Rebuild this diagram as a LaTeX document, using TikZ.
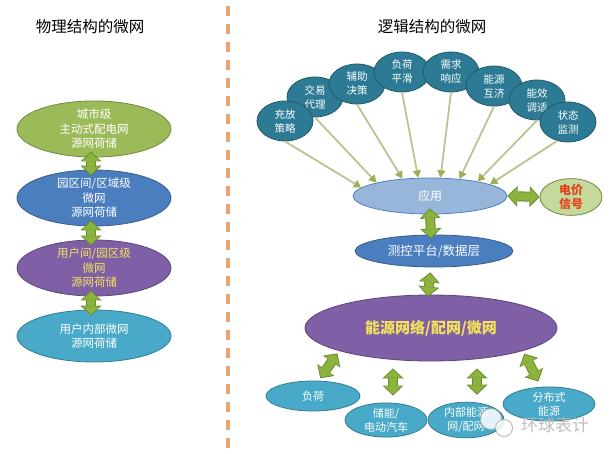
\documentclass[tikz,border=0pt]{standalone}
\usepackage{fontspec}
\setmainfont{Noto Sans CJK SC}
\usetikzlibrary{shapes.geometric,arrows.meta}
\definecolor{cgreen}{HTML}{9BBB59}
\definecolor{cgreenD}{HTML}{71893F}
\definecolor{cblue}{HTML}{4A7EBF}
\definecolor{cblueD}{HTML}{385D8A}
\definecolor{cpurple}{HTML}{7F5FA6}
\definecolor{cpurpleD}{HTML}{5C4776}
\definecolor{cteal}{HTML}{48A9C8}
\definecolor{ctealD}{HTML}{357D91}
\definecolor{cdark}{HTML}{2C7A93}
\definecolor{cdarkD}{HTML}{215A6B}
\definecolor{clight}{HTML}{98B6DA}
\definecolor{clightD}{HTML}{4F81BD}
\definecolor{cpale}{HTML}{C6D99C}
\definecolor{cyel}{HTML}{F2E35A}
\definecolor{cred}{HTML}{E0441C}
\definecolor{gL}{HTML}{8DB33F}
\definecolor{gD}{HTML}{6A8B2C}
\definecolor{rayc}{HTML}{BFC191}
\definecolor{rayt}{HTML}{9DB056}
\definecolor{dashc}{HTML}{EBA56C}
\begin{document}
\begin{tikzpicture}[x=1pt,y=-1pt,
  base/.style={ellipse, inner sep=0pt, align=center, line width=0.8pt, text=white},
  lell/.style={base, minimum width=154pt, minimum height=52pt, font=\fontsize{11.5}{14.5}\selectfont},
  circ/.style={base, fill=cdark, draw=cdarkD, minimum width=56pt, minimum height=40pt, font=\fontsize{10.5}{14}\selectfont},
  bot/.style={base, fill=cteal, draw=ctealD, font=\fontsize{11}{14}\selectfont},
  ray/.style={draw=rayc, line width=1.8pt, -{Triangle[length=7.5pt,width=8pt,color=rayt]}},
  garrow/.style 2 args={draw=gD, line width=10pt,
     {Triangle[width=21pt,length=10pt,line width=0pt]}-{Triangle[width=21pt,length=10pt,line width=0pt]},
     shorten <=#1, shorten >=#2,
     postaction={draw=gL, line width=8pt,
     {Triangle[width=16.8pt,length=8pt,line width=0pt]}-{Triangle[width=16.8pt,length=8pt,line width=0pt]},
     shorten <=#1+1.3pt, shorten >=#2+1.3pt}},
  title/.style={font=\fontsize{15.5}{18}\selectfont, text=black}
]
\useasboundingbox[fill=white] (0,0) rectangle (615,454);

% dashed divider
\draw[dashc, line width=3.5pt, dash pattern=on 10pt off 8pt] (228,6) -- (228,452);

% titles
\node[title] (t1) at (90,27) {物理结构的微网};
\node[title] (t2) at (432,27) {逻辑结构的微网};

% left column
\node[lell, fill=cgreen, draw=cgreenD] (e1) at (94,129) {城市级\\主动式配电网\\源网荷储};
\node[lell, fill=cblue, draw=cblueD] (e2) at (94,198) {园区间/区域级\\微网\\源网荷储};
\node[lell, fill=cpurple, draw=cpurpleD, text=cyel] (e3) at (94,268) {用户间/园区级\\微网\\源网荷储};
\node[lell, fill=cteal, draw=ctealD] (e4) at (94,336) {用户内部微网\\源网荷储};

\draw[garrow={-6pt}{-6pt}] ([xshift=-3pt]e1.south) -- ([xshift=-3pt]e2.north);
\draw[garrow={-6pt}{-6pt}] ([xshift=-3pt]e2.south) -- ([xshift=-3pt]e3.north);
\draw[garrow={-6pt}{-6pt}] ([xshift=-3pt]e3.south) -- ([xshift=-3pt]e4.north);

% right column: application circles
\node[circ] (c2) at (315,97) {交易\\代理};
\node[circ] (c1) at (285,121) {充放\\策略};
\node[circ] (c3) at (357,84) {辅助\\决策};
\node[circ] (c4) at (402,72) {负荷\\平滑};
\node[circ] (c5) at (451,72) {需求\\响应};
\node[circ] (c6) at (494,86) {能源\\互济};
\node[circ] (c7) at (537,100) {能效\\调适};
\node[circ] (c8) at (568,122) {状态\\监测};

\node[base, fill=clight, draw=clightD, minimum width=154pt, minimum height=36pt, font=\fontsize{12}{14}\selectfont] (app) at (430,196) {应用};
\node[base, fill=cpale, draw=cgreenD, minimum width=62pt, minimum height=32pt, text=cred, font=\fontsize{12}{14.5}\bfseries\selectfont] (price) at (571,197) {电价\\信号};
\node[base, fill=cblue, draw=cblueD, minimum width=158pt, minimum height=32pt, font=\fontsize{12.5}{14}\selectfont] (meas) at (434,251) {测控平台/数据层};
\node[base, fill=cpurple, draw=cpurpleD, minimum width=252pt, minimum height=66pt, text=cyel, font=\fontsize{15}{18}\bfseries\selectfont] (net) at (431,328) {能源网络/配网/微网};

\draw[ray] (c1.south) -- (app.173);
\draw[ray] (c2.south) -- (app.166);
\draw[ray] (c3.south) -- (app.148);
\draw[ray] (c4.south) -- (app.123);
\draw[ray] (c5.south) -- (app.60);
\draw[ray] (c6.south) -- (app.30);
\draw[ray] (c7.south) -- (app.17);
\draw[ray] (c8.240) -- (app.11);

\draw[garrow={0pt}{0pt}] (app.east) -- (price.west);
\draw[garrow={-6pt}{-4pt}] (app.south) -- ([xshift=-3pt]meas.north);
\draw[garrow={5pt}{-2pt}] ([xshift=-3pt]meas.south) -- ([xshift=-3pt]net.north);

% bottom nodes
\node[bot, minimum width=94pt, minimum height=30pt] (load) at (313,396) {负荷};
\node[bot, minimum width=82pt, minimum height=34pt] (stor) at (386,420) {储能/\\电动汽车};
\node[bot, minimum width=76pt, minimum height=34pt] (inner) at (466,420) {内部能源\\网/配网};
\node[bot, minimum width=92pt, minimum height=34pt] (dist) at (549,404) {分布式\\能源};

\draw[garrow={3pt}{3pt}] (load.70) -- (net.194);
\draw[garrow={7pt}{7pt}] ([xshift=7pt]stor.north) -- ([xshift=7pt]stor.north |- net.south);
\draw[garrow={7pt}{7pt}] ([xshift=11pt]inner.north) -- ([xshift=11pt]inner.north |- net.south);
\draw[garrow={3pt}{6pt}] (net.-14) -- (dist.115);

% watermark
\node[circle, fill=white, draw=gray!70, line width=0.8pt, minimum size=21pt, opacity=0.85] (wm1) at (491,419) {};
\node[circle, fill=white, draw=gray!70, line width=0.8pt, minimum size=17pt, opacity=0.85] (wm2) at (504,428) {};
\node[text=gray!55, font=\fontsize{17}{20}\selectfont, opacity=0.9] (wmt) at (555,425) {环球表计};
\end{tikzpicture}
\end{document}
